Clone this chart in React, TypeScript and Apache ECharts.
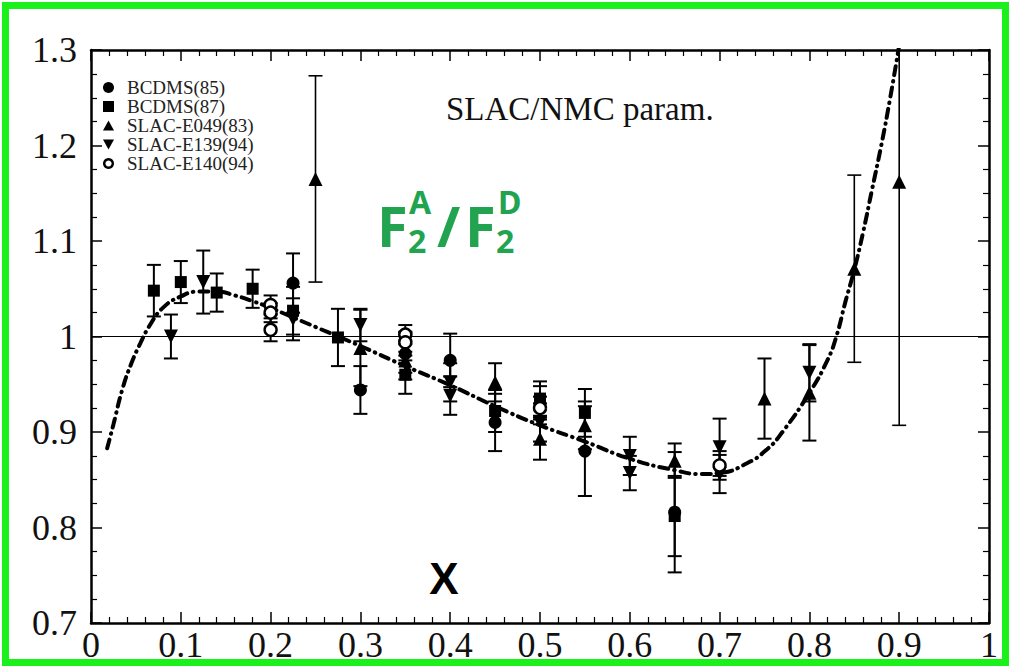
import React, { useEffect, useRef } from "react";
import * as echarts from "echarts";

// [x, ratio, error]
const bcdms85: number[][] = [
  [0.225, 1.056, 0.031],
  [0.3, 0.944, 0.025],
  [0.35, 0.982, 0.02],
  [0.4, 0.975, 0.028],
  [0.45, 0.91, 0.03],
  [0.5, 0.928, 0.02],
  [0.55, 0.88, 0.047],
  [0.65, 0.816, 0.063],
];
const bcdms87: number[][] = [
  [0.07, 1.048, 0.027],
  [0.1, 1.057, 0.022],
  [0.14, 1.046, 0.02],
  [0.18, 1.05, 0.02],
  [0.225, 1.027, 0.025],
  [0.275, 0.999, 0.03],
  [0.35, 0.96, 0.02],
  [0.45, 0.922, 0.022],
  [0.5, 0.935, 0.018],
  [0.55, 0.92, 0.025],
  [0.65, 0.812, 0.042],
];
const slacE049: number[][] = [
  [0.25, 1.165, 0.108],
  [0.3, 0.988, 0.04],
  [0.35, 0.975, 0.02],
  [0.45, 0.952, 0.02],
  [0.5, 0.893, 0.022],
  [0.55, 0.907, 0.025],
  [0.65, 0.87, 0.018],
  [0.75, 0.935, 0.042],
  [0.8, 0.941, 0.05],
  [0.85, 1.071, 0.098],
  [0.9, 1.162, 0.255],
];
const slacE139: number[][] = [
  [0.089, 1.0, 0.023],
  [0.125, 1.057, 0.033],
  [0.225, 1.018, 0.022],
  [0.3, 1.012, 0.017],
  [0.35, 0.99, 0.015],
  [0.4, 0.952, 0.02],
  [0.4, 0.938, 0.02],
  [0.5, 0.91, 0.02],
  [0.6, 0.875, 0.02],
  [0.6, 0.857, 0.018],
  [0.7, 0.884, 0.03],
  [0.7, 0.856, 0.02],
  [0.8, 0.962, 0.03],
];
const slacE140: number[][] = [
  [0.2, 1.033, 0.01],
  [0.2, 1.025, 0.01],
  [0.2, 1.007, 0.012],
  [0.35, 1.002, 0.01],
  [0.35, 0.994, 0.01],
  [0.5, 0.925, 0.012],
  [0.7, 0.865, 0.015],
];
// SLAC/NMC parametrization curve
const paramCurve: number[][] = [
  [0.018, 0.883], [0.025, 0.908], [0.035, 0.945], [0.045, 0.972], [0.055, 0.993],
  [0.065, 1.011], [0.08, 1.03], [0.1, 1.042], [0.12, 1.047], [0.14, 1.047],
  [0.16, 1.043], [0.18, 1.037], [0.2, 1.03], [0.22, 1.022], [0.25, 1.01],
  [0.3, 0.99], [0.35, 0.969], [0.4, 0.949], [0.45, 0.927], [0.5, 0.907],
  [0.55, 0.89], [0.6, 0.872], [0.65, 0.86], [0.68, 0.856], [0.7, 0.857],
  [0.73, 0.867], [0.753, 0.882], [0.77, 0.9], [0.8, 0.941], [0.82, 0.975],
  [0.83, 1.0], [0.84, 1.036], [0.85, 1.07], [0.86, 1.11], [0.87, 1.155],
  [0.88, 1.2], [0.89, 1.25], [0.9, 1.305],
];
const unityLine: number[][] = [[0, 1], [1, 1]];

const seriesNames = ["BCDMS(85)", "BCDMS(87)", "SLAC-E049(83)", "SLAC-E139(94)", "SLAC-E140(94)"];
const downTri = "path://M0,0L10,0L5,9Z";
const upTri = "path://M5,0L10,9L0,9Z";
const ring = "path://M5,0A5,5 0 1 1 4.99,0ZM5,2.2A2.8,2.8 0 1 0 5.01,2.2Z";

const SERIF = "Liberation Serif, DejaVu Serif, serif";
const GREEN = "#22a34f";

function errRender(params: any, api: any) {
  const x = api.value(0), y = api.value(1), e = api.value(2);
  const lo = api.coord([x, y - e]);
  const hi = api.coord([x, y + e]);
  const hw = 7;
  const lw = e > 0.08 ? 1.6 : 2;
  const style = { stroke: "#000", lineWidth: lw };
  return {
    type: "group",
    children: [
      { type: "line", shape: { x1: lo[0], y1: lo[1], x2: hi[0], y2: hi[1] }, style },
      { type: "line", shape: { x1: lo[0] - hw, y1: lo[1], x2: lo[0] + hw, y2: lo[1] }, style },
      { type: "line", shape: { x1: hi[0] - hw, y1: hi[1], x2: hi[0] + hw, y2: hi[1] }, style },
    ],
  };
}

export default function App() {
  const ref = useRef<HTMLDivElement>(null);
  useEffect(() => {
    document.body.style.margin = "0";
    const chart = echarts.init(ref.current!, null, { renderer: "svg" });
    const sets = [bcdms85, bcdms87, slacE049, slacE139, slacE140];
    const symbols = ["circle", "rect", upTri, downTri, "circle"];
    const sizes = [13, 12, 14, 14, 12];
    const legendIcons = ["circle", "rect", upTri, downTri, ring];
    const axisBase = (pos: string, isX: boolean, labels: boolean) => ({
      type: "value",
      position: pos,
      min: isX ? 0 : 0.7,
      max: isX ? 1 : 1.3,
      interval: 0.1,
      axisLine: { show: true, onZero: false, lineStyle: { color: "#000", width: 2.5 } },
      axisTick: { show: true, inside: true, length: 11, lineStyle: { color: "#000", width: 1.5 } },
      minorTick: { show: true, splitNumber: isX ? 5 : 4, length: 6, lineStyle: { color: "#000", width: 1.2 } },
      splitLine: { show: false },
      minorSplitLine: { show: false },
      axisLabel: {
        show: labels,
        fontFamily: SERIF,
        fontSize: 36,
        color: "#111",
        margin: isX ? 4 : 14,
        formatter: (v: number) => String(Math.round(v * 10) / 10),
      },
    });
    const series: any[] = [];
    sets.forEach((d, i) => {
      series.push({
        type: "custom",
        name: seriesNames[i] + "-err",
        renderItem: errRender,
        data: d,
        encode: { x: 0, y: 1 },
        clip: true,
        z: 3,
        silent: true,
      });
    });
    series.push({
      type: "line",
      name: "param",
      data: paramCurve,
      showSymbol: false,
      symbol: "none",
      smooth: true,
      clip: true,
      lineStyle: { color: "#000", width: 4, type: [9, 6, 0.5, 6], cap: "round" },
      z: 4,
    });
    series.push({
      type: "line",
      name: "unity",
      data: unityLine,
      showSymbol: false,
      symbol: "none",
      lineStyle: { color: "#000", width: 1 },
      z: 2,
    });
    sets.forEach((d, i) => {
      series.push({
        type: "scatter",
        name: seriesNames[i],
        data: d,
        symbol: symbols[i],
        symbolSize: sizes[i],
        itemStyle: i === 4
          ? { color: "#fff", borderColor: "#000", borderWidth: 2.4, opacity: 1 }
          : { color: "#000", opacity: 1 },
        z: 5,
      });
    });
    chart.setOption({
      animation: false,
      backgroundColor: "#fff",
      grid: { left: 91, right: 22, top: 50, bottom: 46 },
      xAxis: [axisBase("bottom", true, true), axisBase("top", true, false)],
      yAxis: [axisBase("left", false, true), axisBase("right", false, false)],
      legend: {
        orient: "vertical",
        left: 98,
        top: 73,
        itemGap: 0,
        itemWidth: 11,
        itemHeight: 11,
        textStyle: { fontFamily: SERIF, fontSize: 19, color: "#222", padding: [0, 0, 0, 8] },
        data: seriesNames.map((n, i) => ({
          name: n,
          icon: legendIcons[i],
          itemStyle: { color: "#000", opacity: 1, borderWidth: 0 },
        })),
        selectedMode: false,
      },
      series,
      graphic: [
        {
          type: "rect",
          shape: { x: 5.5, y: 5.5, width: 1000, height: 657 },
          style: { fill: "none", stroke: "#1af01a", lineWidth: 7 },
          silent: true,
        },
        {
          type: "text",
          style: { x: 446, y: 109, text: "SLAC/NMC param.", font: `33px ${SERIF}`, fill: "#111", textVerticalAlign: "middle" },
        },
        { type: "text", style: { x: 377, y: 225, text: "F", font: "bold 56px 'Noto Sans'", fill: GREEN, textVerticalAlign: "middle" } },
        { type: "text", style: { x: 408, y: 240, text: "2", font: "bold 32px 'Noto Sans'", fill: GREEN, textVerticalAlign: "middle" } },
        { type: "text", style: { x: 409, y: 201, text: "A", font: "bold 32px 'Noto Sans'", fill: GREEN, textVerticalAlign: "middle" } },
        { type: "text", style: { x: 437, y: 225, text: "/", font: "bold 56px 'Noto Sans'", fill: GREEN, textVerticalAlign: "middle" } },
        { type: "text", style: { x: 465, y: 225, text: "F", font: "bold 56px 'Noto Sans'", fill: GREEN, textVerticalAlign: "middle" } },
        { type: "text", style: { x: 496, y: 240, text: "2", font: "bold 32px 'Noto Sans'", fill: GREEN, textVerticalAlign: "middle" } },
        { type: "text", style: { x: 498, y: 201, text: "D", font: "bold 32px 'Noto Sans'", fill: GREEN, textVerticalAlign: "middle" } },
        { type: "text", style: { x: 444, y: 578, text: "X", font: "bold 44px 'Liberation Sans'", fill: "#000", textAlign: "center", textVerticalAlign: "middle" } },
      ],
    });
    return () => chart.dispose();
  }, []);
  return <div ref={ref} style={{ width: 1011, height: 669 }} />;
}
